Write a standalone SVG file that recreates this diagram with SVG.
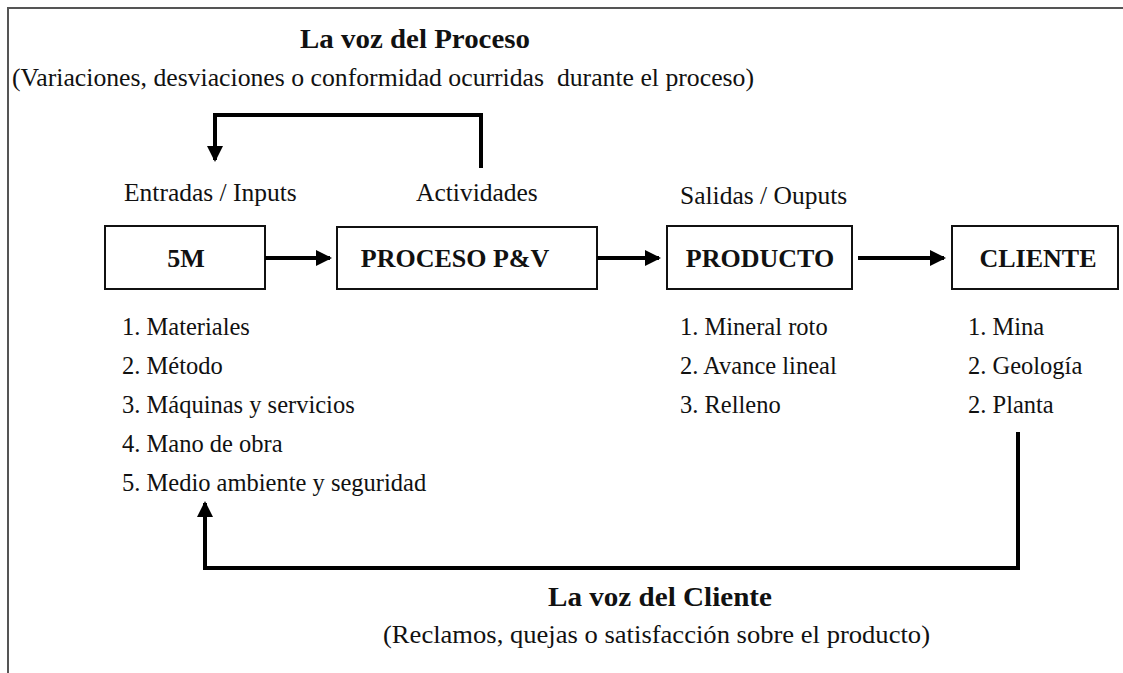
<svg xmlns="http://www.w3.org/2000/svg" width="1123" height="673" viewBox="0 0 1123 673">
<defs>
<style>
text{font-family:"Liberation Serif","Times New Roman",serif;fill:#111;}
.t{font-size:25.5px;}
.l{font-size:24.5px;}
.b{font-size:28px;font-weight:bold;}
.bx{font-size:26px;font-weight:bold;}
.box{fill:#fff;stroke:#111;stroke-width:2;}
.con{fill:none;stroke:#000;stroke-width:4;}
.frame{fill:none;stroke:#555;stroke-width:2;}
</style>
<marker id="ah" markerWidth="4" markerHeight="4" refX="3.5" refY="2" orient="auto" markerUnits="strokeWidth">
<path d="M0,0 L4,2 L0,4 Z" fill="#000"/>
</marker>
</defs>
<rect width="1123" height="673" fill="#fff"/>
<path class="frame" d="M8,673 L8,8 L1123,8"/>

<g id="title-proceso">
<text class="b" x="300" y="48" textLength="230" lengthAdjust="spacingAndGlyphs">La voz del Proceso</text>
<text class="t" x="12" y="86" textLength="742" lengthAdjust="spacingAndGlyphs" xml:space="preserve">(Variaciones, desviaciones o conformidad ocurridas  durante el proceso)</text>
</g>

<g id="labels">
<text class="t" x="124" y="201">Entradas / Inputs</text>
<text class="t" x="416" y="201">Actividades</text>
<text class="t" x="680" y="204">Salidas / Ouputs</text>
</g>

<g id="node-5m">
<rect class="box" x="105" y="226" width="160" height="63"/>
<text class="bx" x="186" y="267" text-anchor="middle">5M</text>
</g>
<g id="node-proceso">
<rect class="box" x="337" y="227" width="260" height="62"/>
<text class="bx" x="455" y="267" text-anchor="middle">PROCESO P&amp;V</text>
</g>
<g id="node-producto">
<rect class="box" x="667" y="226" width="185" height="63"/>
<text class="bx" x="760" y="267" text-anchor="middle">PRODUCTO</text>
</g>
<g id="node-cliente">
<rect class="box" x="952" y="226" width="166" height="63"/>
<text class="bx" x="1038" y="267" text-anchor="middle">CLIENTE</text>
</g>

<g id="list-5m">
<text class="l" x="122" y="335">1. Materiales</text>
<text class="l" x="122" y="374">2. Método</text>
<text class="l" x="122" y="413">3. Máquinas y servicios</text>
<text class="l" x="122" y="452">4. Mano de obra</text>
<text class="l" x="122" y="491">5. Medio ambiente y seguridad</text>
</g>
<g id="list-producto">
<text class="l" x="680" y="335">1. Mineral roto</text>
<text class="l" x="680" y="374">2. Avance lineal</text>
<text class="l" x="680" y="413">3. Relleno</text>
</g>
<g id="list-cliente">
<text class="l" x="968" y="335">1. Mina</text>
<text class="l" x="968" y="374">2. Geología</text>
<text class="l" x="968" y="413">2. Planta</text>
</g>

<g id="connectors">
<line class="con" x1="265" y1="258" x2="330" y2="258" marker-end="url(#ah)"/>
<line class="con" x1="597" y1="258" x2="659" y2="258" marker-end="url(#ah)"/>
<line class="con" x1="858" y1="258" x2="944" y2="258" marker-end="url(#ah)"/>
<path class="con" d="M481,168 L481,115 L215,115 L215,160" marker-end="url(#ah)"/>
<path class="con" d="M1018,432 L1018,568 L205,568 L205,503" marker-end="url(#ah)"/>
</g>

<g id="title-cliente">
<text class="b" x="548" y="606" textLength="224" lengthAdjust="spacingAndGlyphs">La voz del Cliente</text>
<text class="t" x="383" y="643" textLength="547" lengthAdjust="spacingAndGlyphs">(Reclamos, quejas o satisfacción sobre el producto)</text>
</g>
</svg>
